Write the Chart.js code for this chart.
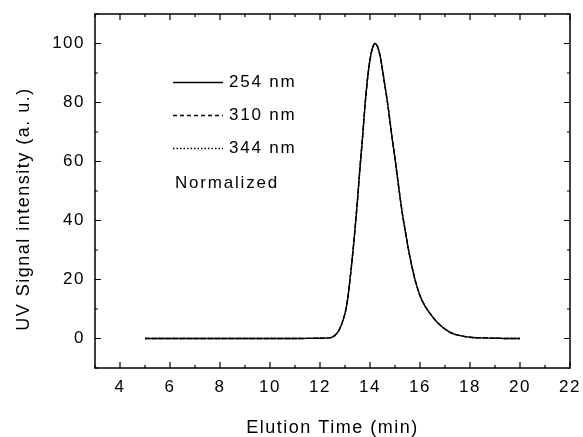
<!DOCTYPE html>
<html>
<head>
<meta charset="utf-8">
<script src="https://cdn.jsdelivr.net/npm/chart.js@4"></script>
<style>
  html, body { margin: 0; padding: 0; background: #fff; }
  #c { display: block; }
</style>
</head>
<body>
<canvas id="c" width="583" height="437"></canvas>
<script>
// elution time (min)
var time = [5, 6, 7, 8, 9, 10, 11, 12, 12.3, 12.5, 12.7, 12.85, 13.0, 13.1, 13.2, 13.3, 13.4, 13.5, 13.6, 13.7,
  13.8, 13.9, 14.0, 14.1, 14.2, 14.3, 14.4, 14.5, 14.6, 14.7, 14.8, 14.9, 15.0, 15.1, 15.2, 15.3, 15.4, 15.5,
  15.6, 15.7, 15.8, 16.0, 16.2, 16.4, 16.6, 16.8, 17.0, 17.2, 17.4, 17.7, 18.0, 18.5, 19.0, 19.5, 20.0];
// normalized UV signal, three wavelengths (overlap almost exactly)
var uv254 = [0, 0, 0, 0, 0, 0, 0, 0.1, 0.2, 0.5, 2, 4.5, 8.5, 13, 20, 28, 37, 47, 58, 68,
  79, 88, 94.5, 98.5, 100, 99, 96, 91, 85.5, 80, 73.5, 67, 61, 54.5, 48, 42, 37, 32,
  27.5, 23.5, 20, 14.5, 11, 8.5, 6.3, 4.6, 3.2, 2.1, 1.4, 0.8, 0.4, 0.2, 0.1, 0, 0];
var uv310 = [0, 0, 0, 0, 0, 0, 0, 0.1, 0.2, 0.5, 2, 4.5, 8.5, 13, 20, 28, 37, 47, 58, 68,
  79, 88, 94.5, 98.5, 100, 99, 96, 91, 85.5, 80, 73.5, 67, 61, 54.5, 48, 42, 37, 32,
  27.5, 23.5, 20, 14.5, 11, 8.5, 6.3, 4.6, 3.2, 2.1, 1.4, 0.8, 0.4, 0.2, 0.1, 0, 0];
var uv344 = [0, 0, 0, 0, 0, 0, 0, 0.1, 0.2, 0.5, 2, 4.5, 8.5, 13, 20, 28, 37, 47, 58, 68,
  79, 88, 94.5, 98.5, 100, 99, 96, 91, 85.5, 80, 73.5, 67, 61, 54.5, 48, 42, 37, 32,
  27.5, 23.5, 20, 14.5, 11, 8.5, 6.3, 4.6, 3.2, 2.1, 1.4, 0.8, 0.4, 0.2, 0.1, 0, 0];

var seriesNames = ['254 nm', '310 nm', '344 nm'];
var xTickLabels = [4, 6, 8, 10, 12, 14, 16, 18, 20, 22];
var yTickLabels = [0, 20, 40, 60, 80, 100];

var FONT = 'Liberation Sans, Arial, sans-serif';

function pts(ys) {
  return time.map(function (t, i) { return { x: t, y: ys[i] }; });
}

var frame = {
  id: 'frame',
  beforeDraw: function (chart) {
    chart.ctx.letterSpacing = '1.5px';
  },
  afterDraw: function (chart) {
    var ctx = chart.ctx, a = chart.chartArea;
    var xs = chart.scales.x, ys = chart.scales.y;
    ctx.save();
    ctx.strokeStyle = '#000';
    ctx.lineWidth = 1.5;
    ctx.strokeRect(a.left, a.top, a.right - a.left, a.bottom - a.top);
    ctx.lineWidth = 1.2;
    ctx.beginPath();
    for (var v = 3; v <= 22; v++) {
      var px = xs.getPixelForValue(v);
      var len = v % 2 === 0 ? 6 : 3;
      ctx.moveTo(px, a.bottom); ctx.lineTo(px, a.bottom - len);
      ctx.moveTo(px, a.top); ctx.lineTo(px, a.top + len);
    }
    for (var w = -10; w <= 110; w += 10) {
      var py = ys.getPixelForValue(w);
      var l2 = w % 20 === 0 ? 6 : 3;
      ctx.moveTo(a.left, py); ctx.lineTo(a.left + l2, py);
      ctx.moveTo(a.right, py); ctx.lineTo(a.right - l2, py);
    }
    ctx.stroke();

    // legend
    ctx.font = '17px ' + FONT;
    ctx.letterSpacing = '1.8px';
    ctx.fillStyle = '#000';
    ctx.textBaseline = 'middle';
    var dashes = [[], [4, 3], [1.5, 2]];
    var lx = Math.round(a.left + 78), ly = Math.round(a.top + 68);
    for (var i = 0; i < 3; i++) {
      var y = ly + i * 33;
      ctx.setLineDash(dashes[i]);
      ctx.lineWidth = 1.3;
      ctx.beginPath();
      ctx.moveTo(lx, y + 0.5); ctx.lineTo(lx + 50, y + 0.5);
      ctx.stroke();
      ctx.setLineDash([]);
      ctx.fillText(seriesNames[i], lx + 56, y);
    }
    ctx.fillText('Normalized', lx + 2, ly + 101);

    // axis titles
    ctx.font = '18px ' + FONT;
    ctx.letterSpacing = '1.5px';
    ctx.textAlign = 'center';
    ctx.fillText('Elution Time (min)', (a.left + a.right) / 2, 428);
    ctx.translate(24, 209);
    ctx.rotate(-Math.PI / 2);
    ctx.fillText('UV Signal intensity (a. u.)', 0, 0);
    ctx.restore();
  }
};

new Chart(document.getElementById('c').getContext('2d'), {
  type: 'scatter',
  data: {
    datasets: [
      { label: seriesNames[2], data: pts(uv344), showLine: true, borderColor: '#000', borderWidth: 1.4, borderDash: [1.5, 2], pointRadius: 0, tension: 0.3 },
      { label: seriesNames[1], data: pts(uv310), showLine: true, borderColor: '#000', borderWidth: 1.4, borderDash: [4, 3], pointRadius: 0, tension: 0.3 },
      { label: seriesNames[0], data: pts(uv254), showLine: true, borderColor: '#000', borderWidth: 1.4, pointRadius: 0, tension: 0.3 }
    ]
  },
  options: {
    responsive: false,
    animation: false,
    layout: { padding: { top: 14, right: 13, left: 0, bottom: 0 } },
    plugins: { legend: { display: false }, tooltip: { enabled: false } },
    scales: {
      x: {
        type: 'linear', min: 3, max: 22,
        grid: { display: false, drawTicks: false },
        border: { display: false },
        afterFit: function (s) { s.height = 69; s.paddingLeft = 0; s.paddingRight = 0; },
        afterBuildTicks: function (s) { s.ticks = xTickLabels.map(function (v) { return { value: v }; }); },
        ticks: { color: '#000', padding: 9, font: { family: FONT, size: 17 }, maxRotation: 0, autoSkip: false }
      },
      y: {
        type: 'linear', min: -10, max: 110,
        grid: { display: false, drawTicks: false },
        border: { display: false },
        afterFit: function (s) { s.width = 95; s.paddingTop = 0; s.paddingBottom = 0; },
        afterBuildTicks: function (s) { s.ticks = yTickLabels.map(function (v) { return { value: v }; }); },
        ticks: { color: '#000', padding: 10, font: { family: FONT, size: 17 } }
      }
    }
  },
  plugins: [frame]
});
</script>
</body>
</html>
